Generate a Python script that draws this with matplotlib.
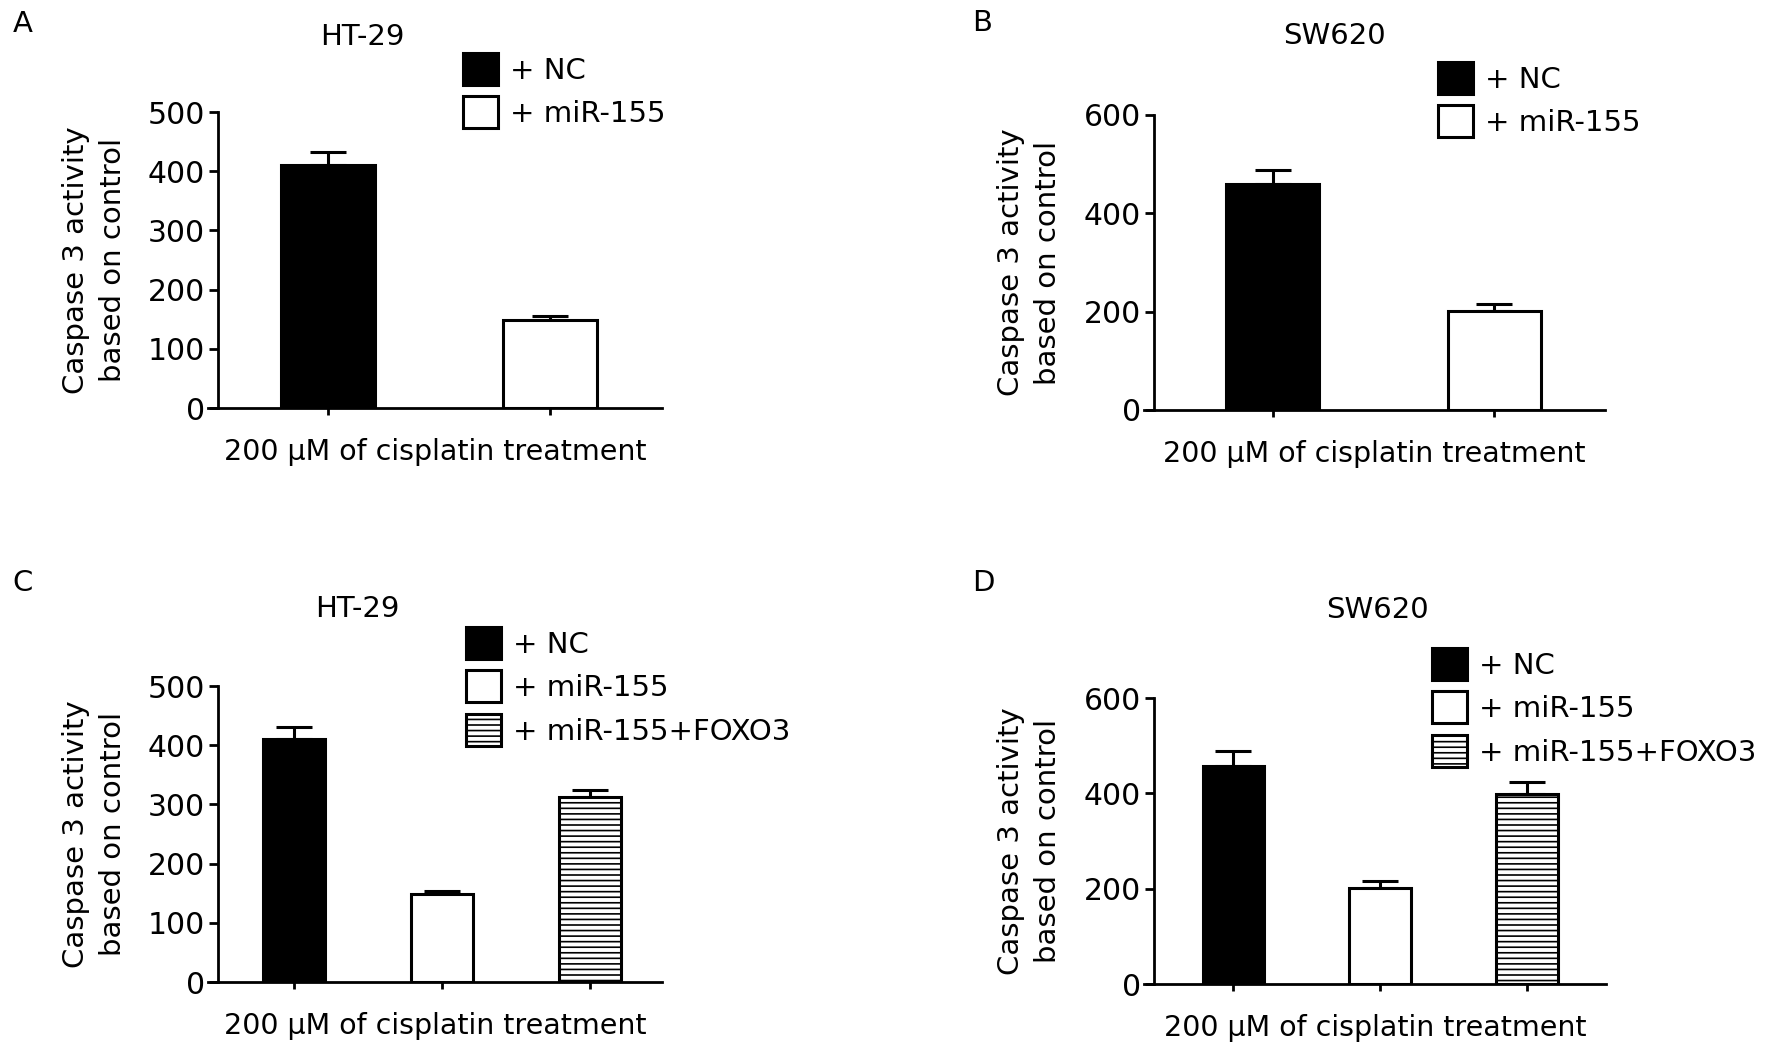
import matplotlib
matplotlib.use("Agg")
import matplotlib.pyplot as plt
import numpy as np

plt.rcParams["font.family"] = ["DejaVu Sans"]
plt.rcParams["hatch.linewidth"] = 1.2
plt.rcParams["hatch.color"] = "#333333"

# 数据
labels_2 = ["+ NC", "+ miR-155"]
labels_3 = ["+ NC", "+ miR-155", "+ miR-155+FOXO3"]

ht29_a = [411, 149]
ht29_a_err = [21, 6]
sw620_b = [459, 202]
sw620_b_err = [29, 14]
ht29_c = [411, 148, 313]
ht29_c_err = [20, 6, 12]
sw620_d = [458, 202, 399]
sw620_d_err = [31, 14, 24]

xlabel = "200 \u03bcM of cisplatin treatment"
ylabel = "Caspase 3 activity\nbased on control"

W, H = 1768, 1056
fig = plt.figure(figsize=(W / 100, H / 100), dpi=100)


def px_rect(l, t, r, b):
    return [l / W, 1 - b / H, (r - l) / W, (b - t) / H]


faces = ["black", "white", "white"]
hatches = [None, None, "---"]

panels = [
    # letter, title, values, errs, labels, ymax, ystep, axes px, xlim, title pos, legend pos, letter pos
    ("A", "HT-29", ht29_a, ht29_a_err, labels_2, 500, 100,
     (208, 112, 662, 408), (-0.54, 1.505), (362, 37), (463, 53), (23, 24)),
    ("B", "SW620", sw620_b, sw620_b_err, labels_2, 600, 200,
     (1144, 115, 1605, 410), (-0.58, 1.50), (1334, 36), (1438, 62), (982, 23)),
    ("C", "HT-29", ht29_c, ht29_c_err, labels_3, 500, 100,
     (208, 686, 662, 982), (-0.586, 2.49), (357, 609), (466, 627), (23, 583)),
    ("D", "SW620", sw620_d, sw620_d_err, labels_3, 600, 200,
     (1144, 698, 1606, 984), (-0.61, 2.54), (1377, 610), (1432, 648), (983, 583)),
]

for letter, title, vals, errs, labs, ymax, ystep, rect, xlim, tpos, lpos, letpos in panels:
    ax = fig.add_axes(px_rect(*rect))
    n = len(vals)
    x = np.arange(n)
    handles = []
    for i in range(n):
        b = ax.bar(x[i], vals[i], width=0.42, color=faces[i], edgecolor="black",
                   linewidth=2.2, hatch=hatches[i], label=labs[i], zorder=3)
        handles.append(b)
    ax.errorbar(x, vals, yerr=[np.zeros(n), errs], fmt="none", ecolor="black",
                elinewidth=2.2, capsize=13, capthick=2.2, zorder=2)

    ax.set_xlim(*xlim)
    ax.set_ylim(0, ymax)
    ax.set_yticks(np.arange(0, ymax + 1, ystep))
    ax.set_xticks(x)
    ax.set_xticklabels([])
    ax.spines["top"].set_visible(False)
    ax.spines["right"].set_visible(False)
    ax.spines["left"].set_position(("axes", 0.022))
    ax.spines["left"].set_linewidth(2.0)
    ax.spines["bottom"].set_linewidth(2.0)
    ax.tick_params(axis="y", length=6.5, width=2.0, labelsize=21.5, pad=3)
    ax.tick_params(axis="x", length=5, width=2.0)
    ax.set_xlabel(xlabel, fontsize=20.5, labelpad=13)
    ax.set_ylabel(ylabel, fontsize=21, linespacing=1.4)
    ax.yaxis.set_label_coords(-0.178, 0.5)

    fig.text(tpos[0] / W, 1 - tpos[1] / H, title, fontsize=21, ha="center", va="center")
    fig.text(letpos[0] / W, 1 - letpos[1] / H, letter, fontsize=21, ha="center", va="center")

    ax.legend(handles=handles, loc="upper left",
              bbox_to_anchor=(lpos[0] / W, 1 - lpos[1] / H),
              bbox_transform=fig.transFigure, frameon=False, fontsize=21,
              handlelength=1.2, handleheight=1.3, handletextpad=0.4,
              labelspacing=0.4, borderpad=0, borderaxespad=0)

fig.savefig("out.png", dpi=100)
